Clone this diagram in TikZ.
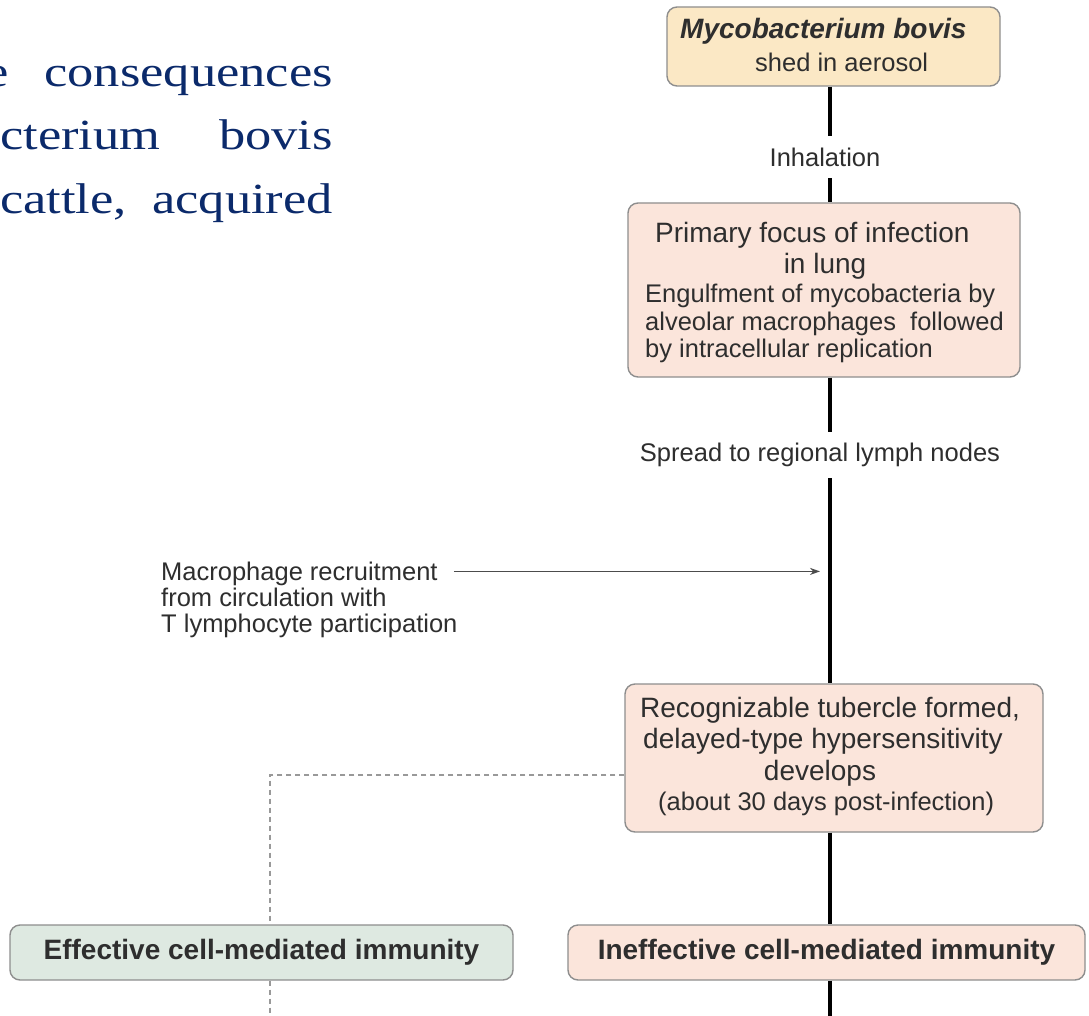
\documentclass[tikz,border=0pt]{standalone}
\usepackage{fontspec}
\setmainfont{Liberation Sans}
\newfontfamily\serifx[FakeStretch=1.22]{Liberation Serif}
\usetikzlibrary{arrows.meta}
\definecolor{cyellow}{HTML}{FBE8C5}
\definecolor{cpink}{HTML}{FBE5DB}
\definecolor{cgreen}{HTML}{DEE9E1}
\definecolor{cborder}{HTML}{8E8E8E}
\definecolor{tgrey}{HTML}{2E2E2E}
\definecolor{navy}{HTML}{0B2A6B}
\newcommand{\fbig}{\fontsize{28}{33}\selectfont}
\newcommand{\fsmall}{\fontsize{25.5}{30}\selectfont}
\tikzset{
  box/.style={draw=cborder, line width=1.4pt, rounded corners=10pt, inner sep=0pt},
  txt/.style={inner sep=0pt, text=tgrey, anchor=base west},
  ctxt/.style={inner sep=0pt, text=tgrey, anchor=base},
  gaplab/.style={inner sep=0pt, text=tgrey, font=\fsmall},
  serif/.style={inner sep=0pt, text=navy, font=\serifx\fontsize{43}{50}\selectfont},
  spineline/.style={line width=3.6pt, black},
  dashline/.style={line width=1.2pt, draw=black!40, dash pattern=on 5pt off 4pt},
  arr/.style={line width=1.5pt, draw=black!70, -{Stealth[length=10pt,width=7pt]}}
}
\begin{document}
\begin{tikzpicture}[x=1pt,y=-1pt]
\useasboundingbox[fill=white] (0,0) rectangle (1089,1016);
\begin{scope}
\clip (0,0) rectangle (1089,1016);
% serif paragraph fragment
\node[serif, anchor=base east] (s1a) at (9,87) {e};
\node[serif, anchor=base east] (s1b) at (333,87) {consequences};
\node[serif, anchor=base west] (s2a) at (0,150) {cterium};
\node[serif, anchor=base east] (s2b) at (333,150) {bovis};
\node[serif, anchor=base west] (s3a) at (0,214) {cattle,};
\node[serif, anchor=base east] (s3b) at (333,214) {acquired};
\end{scope}

\coordinate (spine) at (830,0);
\coordinate (bot) at (830,1016);

% boxes
\node[box, fill=cyellow, minimum width=333pt, minimum height=79pt] (top) at (833.5,46.5) {};
\node[box, fill=cpink, minimum width=392pt, minimum height=174pt] (lung) at (824,290) {};
\node[box, fill=cpink, minimum width=418pt, minimum height=148pt] (tub) at (834,758) {};
\node[box, fill=cgreen, minimum width=503pt, minimum height=55pt, text=tgrey, font=\fbig\bfseries] (eff) at (261.5,952.5) {Effective cell-mediated immunity};
\node[box, fill=cpink, minimum width=517pt, minimum height=55pt, text=tgrey, font=\fbig\bfseries] (ineff) at (826.5,952.5) {Ineffective cell-mediated immunity};

% box texts
\node[txt, font=\fbig\bfseries\itshape] (t1a) at (680,39) {Mycobacterium bovis};
\node[txt, font=\fsmall] (t1b) at (755,72) {shed in aerosol};

\node[txt, font=\fbig] (t2a) at (655,243) {Primary focus of infection};
\node[ctxt, font=\fbig] (t2b) at (825,273) {in lung};
\node[txt, font=\fsmall] (t2c) at (645,302) {Engulfment of mycobacteria by};
\node[txt, font=\fsmall] (t2d) at (645,330) {alveolar macrophages\ \ followed};
\node[txt, font=\fsmall] (t2e) at (645,357) {by intracellular replication};

\node[txt, font=\fbig] (t3a) at (640,717) {Recognizable tubercle formed,};
\node[txt, font=\fbig] (t3b) at (643,748) {delayed-type hypersensitivity};
\node[ctxt, font=\fbig] (t3c) at (820,780) {develops};
\node[txt, font=\fsmall] (t3d) at (658,810) {(about 30 days post-infection)};

% gap labels on spine
\node[gaplab, minimum height=42pt] (inh) at (825,157) {Inhalation};
\node[gaplab, minimum height=46pt] (spr) at (820,455) {Spread to regional lymph nodes};

% macrophage text
\node[txt, font=\fsmall] (m1) at (161,580) {Macrophage recruitment};
\node[txt, font=\fsmall] (m2) at (161,606) {from circulation with};
\node[txt, font=\fsmall] (m3) at (161,632) {T lymphocyte participation};

% spine
\draw[spineline] (top.south -| spine) -- (inh.north -| spine);
\draw[spineline] (inh.south -| spine) -- (lung.north -| spine);
\draw[spineline] (lung.south -| spine) -- (spr.north -| spine);
\draw[spineline] (spr.south -| spine) -- (tub.north -| spine);
\draw[spineline] (tub.south -| spine) -- (ineff.north -| spine);
\draw[spineline] (ineff.south -| spine) -- (bot);

% arrow
\draw[arr] ([xshift=16pt,yshift=2pt]m1.east) -- ([xshift=-10pt,yshift=2pt]m1.east -| spine);

% dashed branch
\coordinate (dj) at (270,775);
\draw[dashline] (dj -| tub.west) -- (dj) -- (dj |- eff.north);
\draw[dashline] (eff.south -| dj) -- (dj |- bot);
\end{tikzpicture}
\end{document}
